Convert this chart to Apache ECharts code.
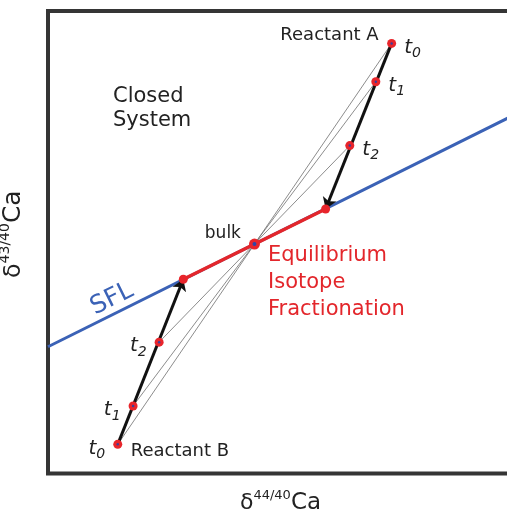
<!DOCTYPE html>
<html>
<head>
<meta charset="utf-8">
<script src="https://cdn.jsdelivr.net/npm/echarts@6/dist/echarts.min.js"></script>
<style>
  html, body { margin: 0; padding: 0; background: #fff; }
  #chart { width: 507px; height: 515px; }
</style>
</head>
<body>
<div id="chart"></div>
<script>
// Schematic Ca isotope space (arbitrary units): two reactants exchanging Ca
// in a closed system, converging on the equilibrium fractionation line.
const timeSteps = ['0', '1', '2'];
const reactantA = [[7.39, 9.30], [7.05, 8.47], [6.49, 7.09]];   // t0, t1, t2
const reactantB = [[1.50, 0.63], [1.83, 1.46], [2.39, 2.84]];   // t0, t1, t2
const bulk = [4.44, 4.96];
const equilibriumA = [5.97, 5.72];
const equilibriumB = [2.91, 4.20];
const sflLine = [[0, 2.74], [10, 7.74]];

const FONT = 'DejaVu Sans';
const INK = '#222';
const RED = '#e3262b';
const DOT = '#e8252b';
const BLUE = '#3b62b6';

const tRich = {
  t: { fontFamily: FONT, fontStyle: 'italic', fontSize: 20, lineHeight: 26, color: INK },
  s: { fontFamily: FONT, fontStyle: 'italic', fontSize: 14, lineHeight: 14, color: INK, verticalAlign: 'bottom' }
};
const tLabel = i => '{t|t}{s|' + timeSteps[i] + '}';

function axisNameRich(scale) {
  return {
    d: { fontFamily: FONT, fontSize: 22 * scale, color: INK, lineHeight: 28 * scale },
    sup: { fontFamily: FONT, fontSize: 13 * scale, color: INK, verticalAlign: 'top', lineHeight: 15 * scale },
    ca: { fontFamily: FONT, fontSize: 23 * scale, color: INK, lineHeight: 28 * scale }
  };
}

const chart = echarts.init(document.getElementById('chart'), null, { renderer: 'canvas' });

chart.setOption({
  animation: false,
  backgroundColor: '#fff',
  grid: {
    left: 48, top: 11, width: 465, bottom: 41.5,
    outerBoundsMode: 'none', containLabel: false,
    show: true, borderColor: '#353535', borderWidth: 4, backgroundColor: 'transparent'
  },
  xAxis: {
    type: 'value', min: 0, max: 10,
    axisLine: { show: false }, axisTick: { show: false },
    axisLabel: { show: false }, splitLine: { show: false },
    name: '{d|δ}{sup|44/40}{ca|Ca}',
    nameLocation: 'middle', nameGap: 16,
    nameTextStyle: { rich: axisNameRich(1) }
  },
  yAxis: {
    type: 'value', min: 0, max: 10,
    axisLine: { show: false }, axisTick: { show: false },
    axisLabel: { show: false }, splitLine: { show: false },
    name: '{d|δ}{sup|43/40}{ca|Ca}',
    nameLocation: 'middle', nameGap: 19, nameRotate: 90,
    nameTextStyle: { padding: [0, 0, 0, 16], rich: axisNameRich(1.08) }
  },
  series: [
    {
      // mass-balance tie lines through the bulk composition
      type: 'lines', coordinateSystem: 'cartesian2d', silent: true, z: 1,
      lineStyle: { color: '#6e6e6e', width: 0.8, opacity: 1 },
      data: reactantB.map((p, i) => ({ coords: [p, reactantA[i]] }))
    },
    {
      type: 'line', silent: true, z: 2, symbol: 'none',
      lineStyle: { color: BLUE, width: 3 },
      data: sflLine
    },
    {
      type: 'line', silent: true, z: 3, symbol: 'none',
      lineStyle: { color: RED, width: 3.5 },
      data: [equilibriumB, equilibriumA]
    },
    {
      type: 'lines', coordinateSystem: 'cartesian2d', silent: true, z: 4,
      symbol: ['none', 'arrow'], symbolSize: [8, 11],
      lineStyle: { color: '#111', width: 3, opacity: 1 },
      data: [
        { coords: [reactantA[0], equilibriumA] },
        { coords: [reactantB[0], equilibriumB] }
      ]
    },
    {
      // reactant A through time
      type: 'scatter', z: 5, symbolSize: 9,
      itemStyle: { color: DOT, opacity: 1 },
      label: { show: true, position: 'right', distance: 8, offset: [0, 4], rich: tRich, opacity: 1 },
      data: reactantA.map((p, i) => ({ value: p, label: { formatter: tLabel(i) } }))
    },
    {
      // reactant B through time
      type: 'scatter', z: 5, symbolSize: 9,
      itemStyle: { color: DOT, opacity: 1 },
      label: { show: true, position: 'left', distance: 8, offset: [0, 4], rich: tRich, opacity: 1 },
      data: reactantB.map((p, i) => ({ value: p, label: { formatter: tLabel(i) } }))
    },
    {
      type: 'scatter', z: 5, symbolSize: 9,
      itemStyle: { color: DOT, opacity: 1 },
      data: [equilibriumA, equilibriumB]
    },
    {
      type: 'scatter', z: 6, symbolSize: 2.5,
      itemStyle: { color: '#3b3f9a', opacity: 1 },
      data: reactantA.concat(reactantB)
    },
    {
      type: 'scatter', z: 6, symbolSize: 11,
      itemStyle: { color: DOT, opacity: 1 },
      label: {
        show: true, position: 'left', distance: 8, offset: [0, -11], opacity: 1,
        formatter: 'bulk', fontFamily: FONT, fontSize: 17, color: INK
      },
      data: [bulk]
    },
    {
      type: 'scatter', z: 7, symbolSize: 4,
      itemStyle: { color: '#2f45a8', opacity: 1 },
      data: [bulk]
    },
    {
      // reactant names
      type: 'scatter', z: 7, symbolSize: 0, silent: true,
      itemStyle: { opacity: 1 },
      label: { show: true, fontFamily: FONT, fontSize: 18, color: INK, opacity: 1 },
      data: [
        { value: reactantA[0], label: { formatter: 'Reactant A', position: 'left', distance: 13, offset: [0, -8] } },
        { value: reactantB[0], label: { formatter: 'Reactant B', position: 'right', distance: 13, offset: [0, 7] } }
      ]
    }
  ],
  graphic: [
    {
      type: 'text', left: 113, top: 85, silent: true,
      style: { text: 'Closed\nSystem', font: 'normal 21px "DejaVu Sans"', fill: INK, lineHeight: 24 }
    },
    {
      type: 'text', left: 268, top: 242, silent: true,
      style: { text: 'Equilibrium\nIsotope\nFractionation', font: 'normal 21px "DejaVu Sans"', fill: RED, lineHeight: 27 }
    },
    {
      type: 'text', x: 112, y: 299, rotation: 26.4 * Math.PI / 180, silent: true,
      style: { text: 'SFL', font: 'normal 25px "DejaVu Sans"', fill: BLUE, align: 'center', verticalAlign: 'middle' }
    }
  ]
});
</script>
</body>
</html>
